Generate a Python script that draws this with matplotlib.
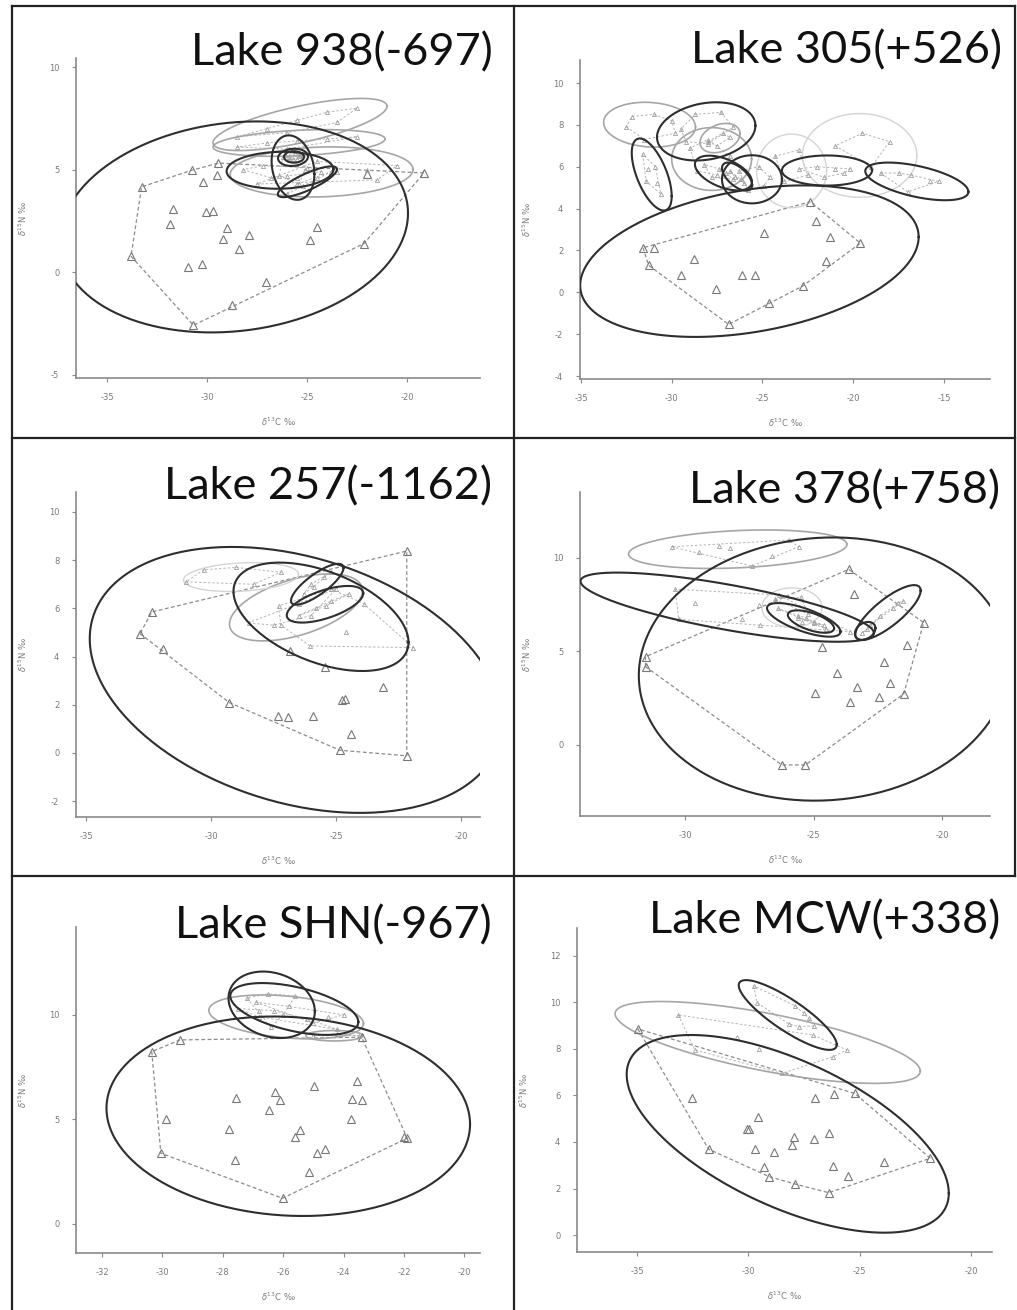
import numpy as np
import matplotlib
matplotlib.use("Agg")
import matplotlib.pyplot as plt
from matplotlib.lines import Line2D

plt.rcParams["axes.unicode_minus"] = False
plt.rcParams["font.family"] = ["DejaVu Sans"]

# ---------------------------------------------------------------- data
# Each group: x list, y list, ellipse [cx, cy, half-width x, half-height y, rho], tone
# ---- Lake 938(-697)
L938_title = "Lake 938(-697)"
L938_xticks = [-35, -30, -25, -20]
L938_yticks = [-5, 0, 5, 10]
L938_main_x = [-33.27, -33.8, -30.68, -28.73, -27.07, -22.15, -19.15, -30.77, -29.43, -29.48,
               -30.22, -31.68, -31.85, -30.05, -29.68, -29.02, -29.18, -27.88, -28.38, -30.93,
               -30.27, -24.52, -24.85, -22.02]
L938_main_y = [4.16, 0.78, -2.58, -1.6, -0.47, 1.4, 4.84, 4.97, 5.32, 4.72,
               4.40, 3.1, 2.37, 2.94, 2.97, 2.14, 1.64, 1.80, 1.15, 0.26,
               0.39, 2.21, 1.56, 4.77]
L938_main_ell = [-28.65, 2.21, 8.7, 5.14, 0.13]
L938_g1_x = [-28.5, -27.0, -25.5, -24.0, -22.5, -26.0, -23.5]
L938_g1_y = [6.6, 7.0, 7.4, 7.8, 8.0, 6.8, 7.3]
L938_g1_ell = [-25.35, 7.2, 4.35, 1.27, 0.7]
L938_g2_x = [-28.5, -27.0, -25.5, -24.0, -22.5, -26.0]
L938_g2_y = [6.1, 6.3, 6.4, 6.5, 6.6, 6.0]
L938_g2_ell = [-25.4, 6.3, 4.3, 0.65, 0.3]
L938_g3_x = [-27.5, -25.5, -23.5, -22.0, -20.5, -24.5, -21.5]
L938_g3_y = [4.3, 4.6, 4.9, 5.0, 5.2, 5.4, 4.5]
L938_g3_ell = [-24.27, 4.89, 4.57, 1.22, 0.1]
L938_g4_x = [-28.2, -27.2, -26.0, -25.0, -24.3, -26.8]
L938_g4_y = [5.0, 5.2, 4.7, 5.1, 4.9, 4.6]
L938_g4_ell = [-26.35, 4.97, 2.67, 0.9, 0.05]
L938_g5_x = [-26.2, -25.4, -25.9, -25.1, -26.4, -25.3]
L938_g5_y = [5.6, 4.3, 6.0, 5.0, 4.7, 5.7]
L938_g5_ell = [-25.7, 5.1, 1.07, 1.57, -0.2]
L938_g6_x = [-26.1, -25.5, -25.3, -25.9, -25.6]
L938_g6_y = [5.7, 5.5, 5.75, 5.45, 5.8]
L938_g6_ell = [-25.7, 5.6, 0.75, 0.42, 0.1]
L938_g7_x = [-25.9, -25.4, -25.7]
L938_g7_y = [5.6, 5.65, 5.5]
L938_g7_ell = [-25.65, 5.62, 0.5, 0.28, 0.0]
L938_g8_x = [-26.0, -25.2, -24.5, -23.8, -25.5]
L938_g8_y = [3.8, 4.2, 4.6, 4.9, 4.3]
L938_g8_ell = [-24.98, 4.41, 1.48, 0.75, 0.81]

# ---- Lake 305(+526)
L305_title = "Lake 305(+526)"
L305_xticks = [-35, -30, -25, -20, -15]
L305_yticks = [-4, -2, 0, 2, 4, 6, 8, 10]
L305_main_x = [-31.58, -31.0, -31.27, -29.47, -28.79, -27.56, -26.86, -26.13, -25.4, -24.93,
               -24.66, -22.79, -22.37, -22.05, -21.26, -21.5, -19.61]
L305_main_y = [2.13, 2.13, 1.29, 0.81, 1.61, 0.16, -1.53, 0.81, 0.81, 2.83,
               -0.51, 0.30, 4.33, 3.40, 2.64, 1.49, 2.35]
L305_main_ell = [-25.72, 1.49, 9.32, 3.62, 0.32]
L305_p1_x = [-32.2, -31.0, -30.0, -29.8, -31.5, -32.5]
L305_p1_y = [8.4, 8.5, 8.2, 7.6, 7.3, 7.9]
L305_p1_ell = [-31.22, 8.01, 2.53, 1.07, -0.1]
L305_p2_x = [-29.5, -28.7, -27.3, -26.6, -28.0, -29.2]
L305_p2_y = [7.8, 8.5, 8.6, 7.9, 7.1, 7.2]
L305_p2_ell = [-28.1, 7.69, 2.71, 1.39, 0.2]
L305_p3_x = [-31.6, -31.3, -30.8, -30.6, -31.4, -30.9]
L305_p3_y = [6.6, 5.9, 5.2, 4.7, 5.3, 6.0]
L305_p3_ell = [-31.1, 5.63, 1.1, 1.72, -0.6]
L305_p4_x = [-29.0, -28.0, -26.8, -27.5, -28.6]
L305_p4_y = [6.9, 7.3, 6.5, 5.6, 5.8]
L305_p4_ell = [-27.8, 6.37, 2.2, 1.5, 0.0]
L305_p5_x = [-28.0, -27.2, -26.8, -27.5]
L305_p5_y = [7.2, 7.6, 7.4, 7.0]
L305_p5_ell = [-27.34, 7.37, 1.1, 0.7, 0.3]
L305_p6_x = [-28.2, -27.4, -26.6, -27.0, -27.8]
L305_p6_y = [6.1, 5.9, 5.4, 5.7, 5.5]
L305_p6_ell = [-27.15, 5.7, 1.57, 0.83, -0.5]
L305_p7_x = [-26.3, -25.2, -24.6, -25.8, -24.9]
L305_p7_y = [5.8, 6.0, 5.5, 4.9, 5.1]
L305_p7_ell = [-25.58, 5.4, 1.65, 1.15, 0.0]
L305_p8_x = [-26.8, -26.2, -26.5, -26.0]
L305_p8_y = [5.8, 5.4, 5.5, 5.2]
L305_p8_ell = [-26.4, 5.53, 0.83, 0.67, -0.6]
L305_p9_x = [-23.0, -22.0, -21.0, -20.5, -21.6, -20.2]
L305_p9_y = [5.9, 6.0, 5.9, 5.7, 5.5, 5.9]
L305_p9_ell = [-21.45, 5.82, 2.48, 0.72, 0.0]
L305_p10_x = [-18.5, -17.5, -16.8, -15.8, -15.3, -17.0]
L305_p10_y = [5.7, 5.7, 5.6, 5.3, 5.3, 4.8]
L305_p10_ell = [-16.5, 5.3, 2.84, 0.9, -0.55]
L305_p11_x = [-21.0, -19.5, -18.0, -19.0]
L305_p11_y = [7.0, 7.6, 7.2, 6.0]
L305_p11_ell = [-19.65, 6.54, 3.15, 2.0, 0.0]
L305_p12_x = [-24.3, -23.0, -22.5, -23.8]
L305_p12_y = [6.5, 6.8, 5.6, 5.3]
L305_p12_ell = [-23.4, 5.8, 1.93, 1.76, 0.0]

# ---- Lake 257(-1162)
L257_title = "Lake 257(-1162)"
L257_xticks = [-35, -30, -25, -20]
L257_yticks = [-2, 0, 2, 4, 6, 8, 10]
L257_main_x = [-32.84, -32.37, -31.93, -29.27, -27.31, -26.91, -25.91, -24.84, -22.17, -22.17,
               -24.64, -24.77, -24.4, -23.13, -25.44, -26.84]
L257_main_y = [4.95, 5.85, 4.3, 2.09, 1.54, 1.49, 1.54, 0.11, -0.12, 8.38,
               2.23, 2.19, 0.78, 2.74, 3.57, 4.23]
L257_main_ell = [-26.6, 3.03, 8.25, 5.52, -0.31]
L257_q1_x = [-26.04, -21.91, -23.9, -25.2, -27.3, -27.2, -24.6]
L257_q1_y = [4.44, 4.37, 6.2, 6.8, 6.1, 5.3, 5.0]
L257_q1_ell = [-25.6, 5.65, 3.5, 2.25, -0.47]
L257_q2_x = [-26.3, -25.9, -25.5, -25.2, -26.0]
L257_q2_y = [6.6, 6.9, 7.3, 7.5, 7.0]
L257_q2_ell = [-25.75, 7.0, 1.05, 0.85, 0.8]
L257_q3_x = [-26.5, -25.8, -25.2, -24.5, -25.4]
L257_q3_y = [5.7, 6.0, 6.3, 6.6, 6.1]
L257_q3_ell = [-25.44, 6.17, 1.53, 0.76, 0.6]
L257_q4_x = [-28.5, -27.5, -26.5, -25.0, -26.0]
L257_q4_y = [5.4, 5.3, 6.2, 6.8, 5.7]
L257_q4_ell = [-26.6, 6.04, 2.66, 1.39, 0.5]
L257_q5_x = [-31.0, -30.3, -29.0, -28.3, -27.2]
L257_q5_y = [7.1, 7.6, 7.7, 7.0, 7.5]
L257_q5_ell = [-28.8, 7.3, 2.3, 0.6, 0.2]

# ---- Lake 378(+758)
L378_title = "Lake 378(+758)"
L378_xticks = [-30, -25, -20]
L378_yticks = [0, 5, 10]
L378_main_x = [-31.54, -31.54, -26.23, -25.32, -23.63, -23.44, -24.67, -24.09, -24.93, -23.31,
               -23.57, -22.46, -22.27, -22.01, -21.49, -21.36, -20.71]
L378_main_y = [4.72, 4.19, -1.07, -1.07, 9.39, 8.07, 5.26, 3.83, 2.8, 3.12,
               2.32, 2.59, 4.46, 3.33, 2.73, 5.35, 6.54]
L378_main_ell = [-24.6, 4.06, 7.2, 7.04, 0.05]
L378_r1_x = [-30.51, -28.69, -28.24, -27.39, -25.96, -25.58, -29.46, -26.6]
L378_r1_y = [10.6, 10.64, 10.52, 9.57, 10.96, 10.6, 10.34, 10.1]
L378_r1_ell = [-27.95, 10.47, 4.25, 1.03, 0.25]
L378_r2_x = [-30.38, -29.62, -30.25, -27.14, -26.35, -27.78, -27.07, -25.45, -23.57]
L378_r2_y = [8.33, 7.61, 6.72, 7.49, 8.02, 6.72, 6.42, 6.6, 6.06]
L378_r2_ell = [-28.36, 7.37, 5.71, 1.85, -0.75]
L378_r3_x = [-26.4, -25.6, -25.0, -24.5, -25.3]
L378_r3_y = [7.3, 6.9, 6.5, 6.2, 6.8]
L378_r3_ell = [-25.38, 6.69, 1.43, 0.9, -0.7]
L378_r4_x = [-25.6, -25.0, -24.6]
L378_r4_y = [6.8, 6.6, 6.4]
L378_r4_ell = [-25.1, 6.6, 0.9, 0.6, -0.6]
L378_r5_x = [-22.8, -22.4, -21.9, -21.5, -21.7]
L378_r5_y = [6.4, 6.9, 7.3, 7.7, 7.6]
L378_r5_ell = [-22.1, 7.08, 1.27, 1.47, 0.8]
L378_r6_x = [-23.1, -22.9]
L378_r6_y = [6.0, 6.2]
L378_r6_ell = [-22.99, 6.1, 0.4, 0.48, 0.3]
L378_r7_x = [-26.5, -25.5, -25.2]
L378_r7_y = [7.8, 7.9, 7.0]
L378_r7_ell = [-25.84, 7.35, 1.17, 1.05, 0.0]

# ---- Lake SHN(-967)
LSHN_title = "Lake SHN(-967)"
LSHN_xticks = [-32, -30, -28, -26, -24, -22, -20]
LSHN_yticks = [0, 5, 10]
LSHN_main_x = [-30.35, -29.42, -29.89, -30.05, -26.02, -21.99, -21.89, -23.4, -27.56, -27.78,
               -27.6, -26.27, -26.11, -26.46, -24.98, -25.44, -25.61, -24.89, -24.62, -25.13,
               -23.55, -23.73, -23.4, -23.75]
LSHN_main_y = [8.24, 8.8, 5.01, 3.38, 1.23, 4.18, 4.1, 8.93, 6.01, 4.53,
               3.06, 6.33, 5.93, 5.45, 6.6, 4.5, 4.15, 3.41, 3.57, 2.5,
               6.84, 5.97, 5.93, 5.01]
LSHN_main_ell = [-25.83, 5.15, 6.02, 4.77, -0.08]
LSHN_s1_x = [-27.2, -26.5, -25.6, -26.8, -26.0, -26.4]
LSHN_s1_y = [10.8, 11.0, 10.9, 10.2, 10.0, 9.4]
LSHN_s1_ell = [-26.38, 10.48, 1.43, 1.59, -0.2]
LSHN_s2_x = [-26.9, -25.8, -24.5, -24.0, -25.0]
LSHN_s2_y = [10.6, 10.4, 9.9, 10.0, 9.6]
LSHN_s2_ell = [-25.63, 10.28, 2.12, 1.24, -0.5]
LSHN_s3_x = [-27.5, -26.3, -25.2, -24.2, -26.8]
LSHN_s3_y = [10.3, 10.2, 9.8, 9.3, 9.9]
LSHN_s3_ell = [-25.9, 9.9, 2.56, 1.05, -0.3]
LSHN_s4_x = [-25.0, -23.5, -24.2]
LSHN_s4_y = [9.0, 9.0, 9.1]
LSHN_s4_ell = [-24.3, 9.0, 0.95, 0.25, 0.0]

# ---- Lake MCW(+338)
LMCW_title = "Lake MCW(+338)"
LMCW_xticks = [-35, -30, -25, -20]
LMCW_yticks = [0, 2, 4, 6, 8, 10, 12]
LMCW_main_x = [-34.96, -31.78, -32.53, -29.57, -30.06, -29.96, -29.71, -28.86, -29.31, -29.06,
               -27.89, -27.96, -28.04, -27.07, -27.02, -26.39, -26.21, -26.39, -26.17, -25.22,
               -25.53, -23.92, -21.83]
LMCW_main_y = [8.86, 3.69, 5.88, 5.06, 4.55, 4.55, 3.69, 3.58, 2.94, 2.51,
               2.19, 4.2, 3.87, 4.12, 5.88, 4.4, 2.97, 1.82, 6.06, 6.09,
               2.54, 3.15, 3.3]
LMCW_main_ell = [-28.23, 4.35, 7.23, 4.25, -0.6]
LMCW_t1_x = [-33.14, -32.4, -28.49, -26.18, -25.58, -27.1, -30.5, -29.5]
LMCW_t1_y = [9.46, 7.96, 6.95, 7.67, 7.96, 8.6, 8.5, 8.0]
LMCW_t1_ell = [-29.13, 8.28, 6.85, 1.76, -0.7]
LMCW_t2_x = [-29.76, -29.61, -27.89, -28.19, -27.74, -27.29, -27.07, -27.52]
LMCW_t2_y = [10.71, 9.99, 9.85, 9.08, 8.96, 9.32, 8.99, 9.54]
LMCW_t2_ell = [-28.23, 9.46, 2.2, 1.5, -0.85]

# ---------------------------------------------------------------- tables
panels = [
    dict(title=L938_title, xt=L938_xticks, yt=L938_yticks,
         box=(76, 58, 480, 378), xl=(-36.55, -16.35), yl=(-5.15, 10.44), tpos=(493, 65),
         groups=[(L938_main_x, L938_main_y, L938_main_ell, "dark", True),
                 (L938_g1_x, L938_g1_y, L938_g1_ell, "light", False),
                 (L938_g2_x, L938_g2_y, L938_g2_ell, "light", False),
                 (L938_g3_x, L938_g3_y, L938_g3_ell, "light", False),
                 (L938_g4_x, L938_g4_y, L938_g4_ell, "dark", False),
                 (L938_g5_x, L938_g5_y, L938_g5_ell, "dark", False),
                 (L938_g6_x, L938_g6_y, L938_g6_ell, "dark", False),
                 (L938_g7_x, L938_g7_y, L938_g7_ell, "dark", False),
                 (L938_g8_x, L938_g8_y, L938_g8_ell, "dark", False)]),
    dict(title=L305_title, xt=L305_xticks, yt=L305_yticks,
         box=(580, 60, 990, 379), xl=(-35.05, -12.47), yl=(-4.14, 11.1), tpos=(1002, 63),
         groups=[(L305_main_x, L305_main_y, L305_main_ell, "dark", True),
                 (L305_p1_x, L305_p1_y, L305_p1_ell, "light", False),
                 (L305_p2_x, L305_p2_y, L305_p2_ell, "dark", False),
                 (L305_p3_x, L305_p3_y, L305_p3_ell, "dark", False),
                 (L305_p4_x, L305_p4_y, L305_p4_ell, "light", False),
                 (L305_p5_x, L305_p5_y, L305_p5_ell, "light", False),
                 (L305_p6_x, L305_p6_y, L305_p6_ell, "dark", False),
                 (L305_p7_x, L305_p7_y, L305_p7_ell, "dark", False),
                 (L305_p8_x, L305_p8_y, L305_p8_ell, "dark", False),
                 (L305_p9_x, L305_p9_y, L305_p9_ell, "dark", False),
                 (L305_p10_x, L305_p10_y, L305_p10_ell, "dark", False),
                 (L305_p11_x, L305_p11_y, L305_p11_ell, "faint", False),
                 (L305_p12_x, L305_p12_y, L305_p12_ell, "faint", False)]),
    dict(title=L257_title, xt=L257_xticks, yt=L257_yticks,
         box=(76, 492, 480, 817), xl=(-35.4, -19.24), yl=(-2.66, 10.83), tpos=(492, 499),
         groups=[(L257_main_x, L257_main_y, L257_main_ell, "dark", True),
                 (L257_q1_x, L257_q1_y, L257_q1_ell, "dark", False),
                 (L257_q2_x, L257_q2_y, L257_q2_ell, "dark", False),
                 (L257_q3_x, L257_q3_y, L257_q3_ell, "dark", False),
                 (L257_q4_x, L257_q4_y, L257_q4_ell, "light", False),
                 (L257_q5_x, L257_q5_y, L257_q5_ell, "faint", False)]),
    dict(title=L378_title, xt=L378_xticks, yt=L378_yticks,
         box=(580, 492, 990, 816), xl=(-34.09, -18.13), yl=(-3.8, 13.53), tpos=(1000, 503),
         groups=[(L378_main_x, L378_main_y, L378_main_ell, "dark", True),
                 (L378_r1_x, L378_r1_y, L378_r1_ell, "light", False),
                 (L378_r2_x, L378_r2_y, L378_r2_ell, "dark", False),
                 (L378_r3_x, L378_r3_y, L378_r3_ell, "dark", False),
                 (L378_r4_x, L378_r4_y, L378_r4_ell, "dark", False),
                 (L378_r5_x, L378_r5_y, L378_r5_ell, "dark", False),
                 (L378_r6_x, L378_r6_y, L378_r6_ell, "dark", False),
                 (L378_r7_x, L378_r7_y, L378_r7_ell, "faint", False)]),
    dict(title=LSHN_title, xt=LSHN_xticks, yt=LSHN_yticks,
         box=(76, 927, 480, 1253), xl=(-32.86, -19.48), yl=(-1.39, 14.2), tpos=(492, 938),
         groups=[(LSHN_main_x, LSHN_main_y, LSHN_main_ell, "dark", True),
                 (LSHN_s1_x, LSHN_s1_y, LSHN_s1_ell, "dark", False),
                 (LSHN_s2_x, LSHN_s2_y, LSHN_s2_ell, "dark", False),
                 (LSHN_s3_x, LSHN_s3_y, LSHN_s3_ell, "light", False),
                 (LSHN_s4_x, LSHN_s4_y, LSHN_s4_ell, "light", False)]),
    dict(title=LMCW_title, xt=LMCW_xticks, yt=LMCW_yticks,
         box=(577, 928, 992, 1252), xl=(-37.69, -19.06), yl=(-0.73, 13.2), tpos=(1000, 933),
         groups=[(LMCW_main_x, LMCW_main_y, LMCW_main_ell, "dark", True),
                 (LMCW_t1_x, LMCW_t1_y, LMCW_t1_ell, "light", False),
                 (LMCW_t2_x, LMCW_t2_y, LMCW_t2_ell, "dark", False)]),
]

TONES = {"dark": ("#2e2e2e", 1.5), "light": ("#a6a6a6", 1.2), "faint": ("#d4d4d4", 1.0)}


def ellipse_xy(cx, cy, hx, hy, rho, n=240):
    t = np.linspace(0, 2 * np.pi, n)
    cov = np.array([[hx * hx, rho * hx * hy], [rho * hx * hy, hy * hy]])
    L = np.linalg.cholesky(cov)
    v = L @ np.vstack([np.cos(t), np.sin(t)])
    return cx + v[0], cy + v[1]


def convex_hull(xs, ys):
    pts = sorted(set(zip(xs, ys)))
    if len(pts) < 3:
        return pts

    def cross(o, a, b):
        return (a[0] - o[0]) * (b[1] - o[1]) - (a[1] - o[1]) * (b[0] - o[0])

    lower, upper = [], []
    for p in pts:
        while len(lower) >= 2 and cross(lower[-2], lower[-1], p) <= 0:
            lower.pop()
        lower.append(p)
    for p in reversed(pts):
        while len(upper) >= 2 and cross(upper[-2], upper[-1], p) <= 0:
            upper.pop()
        upper.append(p)
    return lower[:-1] + upper[:-1]


W, H = 1017, 1310
fig = plt.figure(figsize=(W / 100, H / 100), dpi=100)
fig.patch.set_facecolor("white")

for p in panels:
    l, t, r, b = p["box"]
    ax = fig.add_axes([l / W, 1 - b / H, (r - l) / W, (b - t) / H])
    ax.set_xlim(*p["xl"])
    ax.set_ylim(*p["yl"])
    for s in ("top", "right"):
        ax.spines[s].set_visible(False)
    for s in ("left", "bottom"):
        ax.spines[s].set_color("#8a8a8a")
        ax.spines[s].set_linewidth(1.2)
    ax.set_xticks(p["xt"])
    ax.set_yticks(p["yt"])
    ax.set_xticklabels([str(v) for v in p["xt"]])
    ax.set_yticklabels([str(v) for v in p["yt"]])
    ax.tick_params(direction="out", length=3, width=0.8, color="#8a8a8a",
                   labelsize=6, labelcolor="#7a7a7a")
    ax.tick_params(axis="x", pad=8)
    ax.tick_params(axis="y", pad=9)

    for gx, gy, ell, tone, is_main in p["groups"]:
        hp = convex_hull(gx, gy)
        hx = [q[0] for q in hp] + [hp[0][0]]
        hy = [q[1] for q in hp] + [hp[0][1]]
        if is_main:
            ax.plot(hx, hy, ls=(0, (3, 2)), color="#8c8c8c", lw=0.9, zorder=2)
            ax.plot(gx, gy, ls="none", marker="^", ms=5.5, mfc="none", mec="#777777",
                    mew=0.8, zorder=3)
        else:
            ax.plot(hx, hy, ls=(0, (2.5, 2)), color="#b5b5b5", lw=0.7, zorder=2)
            ax.plot(gx, gy, ls="none", marker="^", ms=3, mfc="none", mec="#a0a0a0",
                    mew=0.6, zorder=3)
        ex, ey = ellipse_xy(*ell)
        col, lw = TONES[tone]
        ax.plot(ex, ey, color=col, lw=lw, zorder=4 if tone == "dark" else 2.5)

    # axis labels
    cxp = (l + r) / 2
    cyp = (t + b) / 2
    fig.text(cxp / W, 1 - (b + 44) / H, r"$\delta^{13}$C ‰", ha="center", va="center",
             fontsize=6, color="#7a7a7a")
    fig.text((l - 53) / W, 1 - cyp / H, r"$\delta^{15}$N ‰", ha="center", va="center",
             rotation=90, fontsize=6, color="#7a7a7a")
    # title
    tx, ty = p["tpos"]
    fig.text(tx / W, 1 - ty / H, p["title"], ha="right", va="baseline",
             fontsize=32.5, family=["Lato", "DejaVu Sans"], color="#111111")

# grid borders
def hline(y, x0, x1):
    fig.add_artist(Line2D([x0 / W, x1 / W], [1 - y / H, 1 - y / H], color="#222222", lw=1.6))


def vline(x, y0, y1):
    fig.add_artist(Line2D([x / W, x / W], [1 - y0 / H, 1 - y1 / H], color="#222222", lw=1.6))

hline(6, 12, 1015)
hline(438, 12, 1015)
hline(876, 12, 1015)
vline(12, 6, 1310)
vline(514, 6, 1310)
vline(1015, 6, 876)

fig.savefig("out.png", dpi=100, facecolor="white")
